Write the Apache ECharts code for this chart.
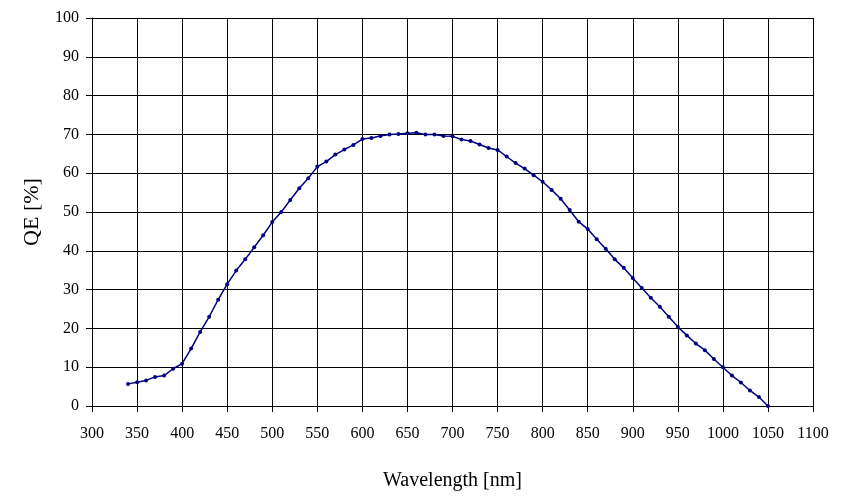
<!DOCTYPE html>
<html>
<head>
<meta charset="utf-8">
<script src="https://cdn.jsdelivr.net/npm/echarts@6/dist/echarts.min.js"></script>
<style>
html,body{margin:0;padding:0;background:#fff;}
#chart{width:843px;height:498px;}
</style>
</head>
<body>
<div id="chart"></div>
<script>
const wavelengths = [340,350,360,370,380,390,400,410,420,430,440,450,460,470,480,490,500,510,520,530,540,550,560,570,580,590,600,610,620,630,640,650,660,670,680,690,700,710,720,730,740,750,760,770,780,790,800,810,820,830,840,850,860,870,880,890,900,910,920,930,940,950,960,970,980,990,1000,1010,1020,1030,1040,1050];
const qe = [5.7,6.1,6.6,7.5,7.85,9.6,10.9,14.8,19.1,23.0,27.4,31.4,34.9,37.8,40.9,44.0,47.4,50.0,53.1,56.1,58.7,61.7,63.0,64.8,66.1,67.3,68.8,69.1,69.6,70.0,70.1,70.3,70.4,70.0,70.0,69.6,69.5,68.7,68.3,67.4,66.5,66.0,64.3,62.6,61.2,59.5,57.8,55.7,53.4,50.5,47.5,45.6,43.0,40.5,37.8,35.6,33.0,30.4,27.9,25.6,23.0,20.4,18.2,16.1,14.4,12.1,10.0,7.85,6.05,4.0,2.3,0.0];
const xTitle = 'Wavelength [nm]';
const yTitle = 'QE [%]';

const chart = echarts.init(document.getElementById('chart'));
const font = 'Liberation Serif';
chart.setOption({
  animation: false,
  backgroundColor: '#fff',
  grid: {left: 92, right: 30, top: 18, bottom: 92, containLabel: false},
  xAxis: {
    type: 'value', min: 300, max: 1100, interval: 50,
    name: xTitle, nameLocation: 'middle', nameGap: 65,
    nameTextStyle: {fontFamily: font, fontSize: 20, color: '#000'},
    axisLine: {show: true, lineStyle: {color: '#000', width: 1}},
    axisTick: {show: true, inside: false, length: 6, lineStyle: {color: '#000'}},
    axisLabel: {fontFamily: font, fontSize: 16, color: '#000', margin: 20, formatter: v => String(v)},
    splitLine: {show: true, lineStyle: {color: '#000', width: 1}}
  },
  yAxis: {
    type: 'value', min: 0, max: 100, interval: 10,
    name: yTitle, nameLocation: 'middle', nameGap: 49, nameRotate: 90,
    nameTextStyle: {fontFamily: font, fontSize: 22, color: '#000'},
    axisLine: {show: true, lineStyle: {color: '#000', width: 1}},
    axisTick: {show: true, inside: false, length: 6, lineStyle: {color: '#000'}},
    axisLabel: {fontFamily: font, fontSize: 16, color: '#000', margin: 13, formatter: v => String(v)},
    splitLine: {show: true, lineStyle: {color: '#000', width: 1}}
  },
  series: [{
    type: 'line',
    data: wavelengths.map((w, i) => [w, qe[i]]),
    lineStyle: {color: '#000080', width: 1.5},
    itemStyle: {color: '#000080'},
    symbol: 'circle', symbolSize: 4, showSymbol: true
  }]
});
</script>
</body>
</html>
